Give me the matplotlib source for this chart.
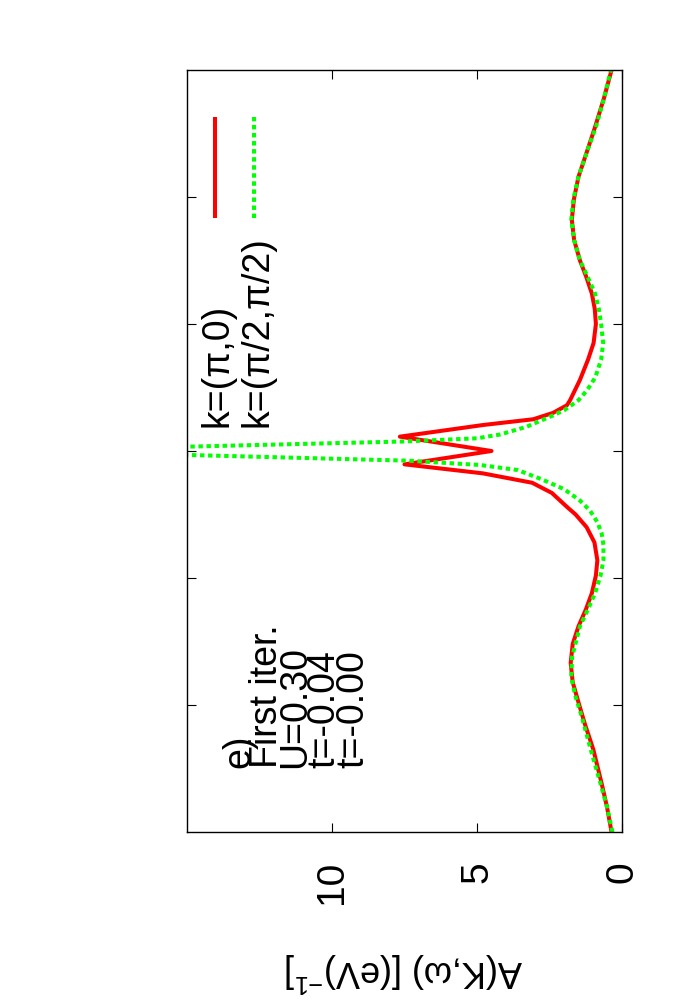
import matplotlib
matplotlib.use('Agg')
import matplotlib.pyplot as plt

# spectral function, read off the (rotated) gnuplot figure
# omega is vertical, A(k,w) horizontal with 0 on the right
red_w = [-3.0, -2.8, -2.62, -2.35, -2.15, -1.98, -1.82, -1.67, -1.52, -1.38,
         -1.25, -1.12, -0.98, -0.86, -0.72, -0.60, -0.50, -0.44, -0.33, -0.25,
         -0.176, -0.105, 0.0, 0.113, 0.205, 0.25, 0.30, 0.36, 0.40, 0.48,
         0.56, 0.72, 0.85, 1.0, 1.12, 1.24, 1.37, 1.50, 1.66, 1.82,
         1.98, 2.16, 2.35, 2.55, 2.78, 3.0]
red_a = [0.36, 0.52, 0.70, 0.99, 1.28, 1.50, 1.70, 1.77, 1.70, 1.50,
         1.25, 1.04, 0.90, 0.85, 0.95, 1.22, 1.60, 1.90, 2.42, 3.10,
         4.80, 7.50, 4.50, 7.66, 4.78, 3.06, 2.38, 1.90, 1.79, 1.62,
         1.45, 1.17, 0.98, 0.90, 0.94, 1.04, 1.23, 1.45, 1.65, 1.73,
         1.66, 1.50, 1.22, 0.93, 0.62, 0.36]

green_w = [-3.0, -2.8, -2.62, -2.35, -2.09, -1.92, -1.78, -1.62, -1.38, -1.25,
           -1.12, -0.98, -0.86, -0.74, -0.65, -0.56, -0.47, -0.39, -0.30, -0.22,
           -0.15, -0.11, -0.076, -0.031, 0.0, 0.034, 0.075, 0.10, 0.13, 0.19,
           0.28, 0.32, 0.40, 0.48, 0.58, 0.72, 0.85, 1.0, 1.12, 1.24,
           1.37, 1.50, 1.66, 1.82, 1.98, 2.16, 2.35, 2.55, 2.78, 3.0]
green_a = [0.33, 0.52, 0.74, 1.08, 1.39, 1.62, 1.75, 1.72, 1.45, 1.18,
           0.93, 0.74, 0.64, 0.64, 0.70, 0.85, 1.10, 1.45, 2.00, 2.80,
           3.60, 4.90, 7.40, 15.0, 19.5, 15.0, 7.50, 5.00, 4.20, 3.30,
           2.38, 2.00, 1.50, 1.20, 0.92, 0.72, 0.65, 0.72, 0.80, 0.93,
           1.18, 1.45, 1.65, 1.75, 1.68, 1.50, 1.22, 0.90, 0.62, 0.38]

a_ticks = [0, 5, 10]
a_labels = ['0', '5', '10']
w_ticks = [-2, -1, 0, 1, 2]
series_names = ['k=(\u03c0,0)', 'k=(\u03c0/2,\u03c0/2)']
notes = ['e)', 'First iter.', 'U=0.30', 't=-0.04', 't=-0.00']

plt.rcParams['font.family'] = ['Liberation Sans', 'DejaVu Sans']
plt.rcParams['mathtext.fontset'] = 'custom'
plt.rcParams['mathtext.rm'] = 'Liberation Sans'

W, H = 700, 1000
fig = plt.figure(figsize=(W / 100, H / 100), dpi=100)
ax = fig.add_axes([187 / W, 168 / H, 435 / W, 762 / H])

red = '#ff0000'
green = '#00ff00'
ax.plot(red_a, red_w, color=red, lw=2.9, solid_joinstyle='round')
ax.plot(green_a, green_w, color=green, lw=2.9, dashes=(1.1, 0.9),
        dash_capstyle='butt')

ax.set_xlim(15, 0)
ax.set_ylim(-3, 3)
ax.set_xticks(a_ticks)
ax.set_xticklabels(a_labels, rotation=90)
ax.set_yticks(w_ticks)
ax.set_yticklabels([])
ax.tick_params(direction='in', length=6.5, width=0.8, top=True, right=True,
               labelsize=28, pad=21)
for s in ax.spines.values():
    s.set_linewidth(1.0)

# rotated key, drawn by hand
ax.plot([0.0644, 0.0644], [0.806, 0.938], transform=ax.transAxes,
        color=red, lw=2.9, solid_capstyle='butt')
ax.plot([0.154, 0.154], [0.806, 0.938], transform=ax.transAxes,
        color=green, lw=2.9, dashes=(1.1, 0.9), dash_capstyle='butt')
for name, xb in zip(series_names, [228, 267]):
    fig.text(xb / W, 1 - 427 / H, name, rotation=90, rotation_mode='anchor',
             ha='left', va='baseline', fontsize=27)

for txt, xb in zip(notes, [249, 277, 305, 334, 363]):
    fig.text(xb / W, 1 - 768 / H, txt, rotation=90, rotation_mode='anchor',
             ha='left', va='baseline', fontsize=27)

fig.text(404 / W, 1 - 960 / H, r'A(K,$\mathregular{\omega}$) [(eV)$^{\mathregular{-1}}$]',
         rotation=180, rotation_mode='anchor', ha='center', va='baseline',
         fontsize=26)

fig.savefig('out.png', dpi=100)
